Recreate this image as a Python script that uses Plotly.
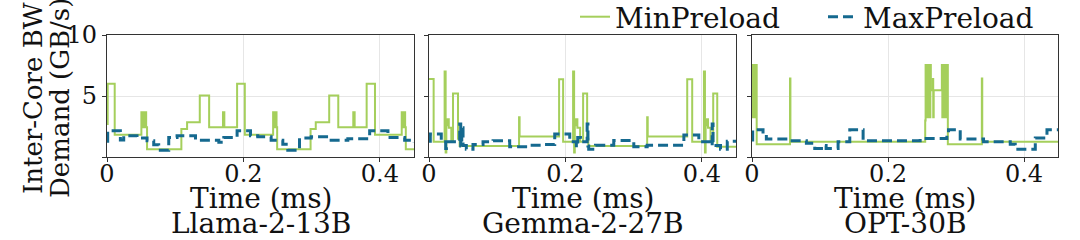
import plotly.graph_objects as go

# ---------------- data ----------------
panel_names = ["Llama-2-13B", "Gemma-2-27B", "OPT-30B"]
x_tick_vals = [0, 0.2, 0.4]
x_tick_text = ["0", "0.2", "0.4"]
y_tick_vals = [0, 5, 10]
y_tick_text = ["", "5", "10"]

llama_min_t = [0, 0.001, 0.0113, 0.0504, 0.0514, 0.0524, 0.0534, 0.0544, 0.0554, 0.0564, 0.0574, 0.0587,
               0.109, 0.1174, 0.136, 0.1497, 0.170, 0.172, 0.1907, 0.202, 0.2435, 0.2445, 0.2455, 0.2465,
               0.2475, 0.2485, 0.2494, 0.2984, 0.306, 0.3257, 0.339, 0.361, 0.363, 0.3806, 0.3928, 0.432,
               0.433, 0.434, 0.435, 0.436, 0.437, 0.438, 0.45]
llama_min_v = [2.7, 6.0, 1.82, 3.67, 2.43, 3.67, 2.43, 3.67, 2.43, 3.67, 2.43, 0.63,
               2.29, 2.85, 5.05, 2.43, 3.67, 2.43, 6.0, 1.82, 3.67, 2.43, 3.67, 2.43,
               3.67, 2.43, 0.63, 2.29, 2.85, 5.05, 2.43, 3.67, 2.43, 6.0, 1.82, 3.67,
               2.43, 3.67, 2.43, 3.67, 2.43, 0.63, 0.63]
llama_max_t = [0, 0.001, 0.0196, 0.0245, 0.044, 0.0587, 0.0685, 0.0758, 0.0905, 0.1027, 0.1297, 0.1639,
               0.1712, 0.1907, 0.2103, 0.221, 0.2406, 0.2577, 0.265, 0.2822, 0.2993, 0.3263, 0.353, 0.385,
               0.4118, 0.4363, 0.45]
llama_max_v = [1.3, 2.15, 1.4, 1.74, 1.55, 1.33, 1.0, 0.55, 1.6, 1.74, 1.38, 1.2,
               1.6, 2.15, 1.74, 1.66, 1.38, 1.05, 0.55, 1.55, 1.66, 1.38, 1.5, 2.15,
               1.6, 1.38, 1.2]

gemma_min_t = [0, 0.0068, 0.0229, 0.0244, 0.0254, 0.0264, 0.0274, 0.029, 0.0327, 0.0352, 0.0425, 0.0449,
               0.132, 0.1328, 0.1907, 0.1966, 0.2112, 0.2127, 0.2137, 0.2147, 0.2157, 0.2175, 0.2215, 0.2259,
               0.2318, 0.2335, 0.3198, 0.3206, 0.3785, 0.3858, 0.403, 0.4045, 0.4055, 0.4065, 0.4075, 0.409,
               0.4127, 0.4166, 0.4225, 0.45]
gemma_min_v = [6.4, 1.24, 7.0, 0.36, 3.0, 2.6, 3.1, 2.4, 1.24, 5.2, 1.5, 0.9,
               3.26, 1.68, 6.38, 1.24, 7.0, 0.36, 3.0, 2.6, 3.1, 2.4, 1.24, 5.2,
               1.5, 0.9, 3.26, 1.68, 6.38, 1.24, 7.0, 0.36, 3.0, 2.6, 3.1, 2.4,
               1.24, 5.2, 0.85, 0.85]
gemma_max_t = [0, 0.0019, 0.018, 0.0245, 0.0255, 0.045, 0.0465, 0.048, 0.0499, 0.0547, 0.0645, 0.0792,
               0.0939, 0.1183, 0.1476, 0.1672, 0.1843, 0.2063, 0.216, 0.218, 0.222, 0.2318, 0.233, 0.2341,
               0.244, 0.2708, 0.3002, 0.3198, 0.3736, 0.3955, 0.4127, 0.4151, 0.4163, 0.4273, 0.4372, 0.45]
gemma_max_v = [1.3, 1.88, 1.24, 0.7, 1.24, 2.7, 0.9, 2.4, 0.94, 0.64, 1.02, 1.24,
               1.33, 0.85, 0.97, 1.02, 1.88, 1.24, 0.8, 1.6, 1.24, 2.7, 0.9, 0.64,
               0.97, 1.35, 0.85, 0.97, 1.8, 1.24, 0.94, 2.7, 0.94, 0.64, 1.3, 1.3]

opt_min_t = [0, 0.0008, 0.0016, 0.0024, 0.0032, 0.004, 0.0048, 0.0056, 0.0064, 0.0069, 0.0559, 0.0565,
             0.2547, 0.2553, 0.256, 0.2567, 0.2574, 0.2581, 0.2588, 0.2595, 0.2602, 0.2609, 0.2616, 0.2623,
             0.263, 0.266, 0.2665, 0.2672, 0.2792, 0.2799, 0.2806, 0.2813, 0.282, 0.2827, 0.2834, 0.2841,
             0.2848, 0.2855, 0.2862, 0.2869, 0.2876, 0.288, 0.338, 0.3386, 0.45]
opt_min_v = [7.54, 3.26, 7.54, 3.26, 7.54, 3.26, 7.54, 3.26, 7.54, 1.05, 6.44, 1.24,
             3.0, 7.54, 3.26, 7.54, 3.26, 7.54, 3.26, 7.54, 3.26, 7.54, 3.26, 7.54,
             5.47, 6.4, 3.26, 5.47, 7.54, 3.26, 7.54, 3.26, 7.54, 3.26, 7.54, 3.26,
             7.54, 3.26, 7.54, 3.26, 7.54, 1.05, 6.44, 1.24, 1.24]
opt_max_t = [0, 0.001, 0.0162, 0.0211, 0.0555, 0.08, 0.0923, 0.107, 0.109, 0.1266, 0.1438, 0.1634,
             0.2473, 0.2866, 0.289, 0.3062, 0.3405, 0.3798, 0.3871, 0.4166, 0.4338, 0.45]
opt_max_v = [1.4, 2.24, 1.8, 1.47, 1.33, 1.13, 0.7, 0.95, 0.7, 1.24, 2.24, 1.33,
             1.52, 1.8, 2.24, 1.47, 1.24, 1.05, 0.64, 1.55, 2.24, 2.24]

series = [
    (llama_min_t, llama_min_v, llama_max_t, llama_max_v),
    (gemma_min_t, gemma_min_v, gemma_max_t, gemma_max_v),
    (opt_min_t, opt_min_v, opt_max_t, opt_max_v),
]

# ---------------- styling ----------------
GREEN = "#a5cf5c"
BLUE = "#15698f"
FONT = "DejaVu Serif"
FS_TICK = 24
FS = 28
FS_Y = 26
W, H = 1080, 240
ML, MR, MT, MB = 107, 22, 35, 83
PW = W - ML - MR
PH = H - MT - MB
panel_px = [(107, 414), (429, 736), (752, 1058)]
domains = [[(a - ML) / PW, (b - ML) / PW] for a, b in panel_px]

fig = go.Figure()
for i, (mt, mv, xt, xv) in enumerate(series):
    xa = "x" if i == 0 else f"x{i+1}"
    ya = "y" if i == 0 else f"y{i+1}"
    fig.add_trace(go.Scatter(x=mt, y=mv, mode="lines", line=dict(color=GREEN, width=2, shape="hv"),
                             name="MinPreload", showlegend=(i == 0), legend="legend",
                             xaxis=xa, yaxis=ya))
    fig.add_trace(go.Scatter(x=xt, y=xv, mode="lines",
                             line=dict(color=BLUE, width=3, shape="hv", dash="10px,5px"),
                             name="MaxPreload", showlegend=(i == 0), legend="legend2",
                             xaxis=xa, yaxis=ya))

axis_common = dict(showline=True, linecolor="#333333", linewidth=1.2, mirror=True,
                   ticks="outside", ticklen=4, tickcolor="#333333", tickwidth=1.2,
                   showgrid=True, gridcolor="#e6e6e6", gridwidth=1, zeroline=False,
                   tickfont=dict(family=FONT, size=FS_TICK, color="#111111"))
layout_axes = {}
for i in range(3):
    sx = "xaxis" if i == 0 else f"xaxis{i+1}"
    sy = "yaxis" if i == 0 else f"yaxis{i+1}"
    yname = "y" if i == 0 else f"y{i+1}"
    xname = "x" if i == 0 else f"x{i+1}"
    layout_axes[sx] = dict(axis_common, domain=domains[i], range=[0, 0.45], anchor=yname,
                           tickvals=x_tick_vals, ticktext=x_tick_text, ticklabelstandoff=-9)
    layout_axes[sy] = dict(axis_common, domain=[0, 1], range=[0, 10], anchor=xname,
                           tickvals=y_tick_vals, ticktext=y_tick_text, showticklabels=(i == 0))

annotations = []
for i, name in enumerate(panel_names):
    cx = (sum(domains[i])) / 2
    annotations.append(dict(text="Time (ms)", x=cx, y=(157 - 198) / PH, xref="paper", yref="paper",
                            showarrow=False, xanchor="center", yanchor="middle",
                            font=dict(family=FONT, size=FS, color="#111111")))
    annotations.append(dict(text=name, x=cx, y=(157 - 223) / PH, xref="paper", yref="paper",
                            showarrow=False, xanchor="center", yanchor="middle",
                            font=dict(family=FONT, size=FS, color="#111111")))
for txt, px in [("Inter-Core BW", 33), ("Demand (GB/s)", 60)]:
    annotations.append(dict(text=txt, x=(px - ML) / PW, y=(157 - 98) / PH, xref="paper", yref="paper",
                            showarrow=False, xanchor="center", yanchor="middle", textangle=-90,
                            font=dict(family=FONT, size=FS_Y, color="#111111")))

legend_common = dict(orientation="h", xanchor="left", yanchor="middle", y=(157 - 17) / PH,
                     font=dict(family=FONT, size=FS, color="#111111"), bgcolor="rgba(0,0,0,0)",
                     itemwidth=30)

fig.update_layout(
    width=W, height=H, margin=dict(l=ML, r=MR, t=MT, b=MB, autoexpand=False),
    paper_bgcolor="white", plot_bgcolor="white",
    font=dict(family=FONT, size=FS, color="#111111"),
    legend=dict(legend_common, x=(575 - ML) / PW),
    legend2=dict(legend_common, x=(823 - ML) / PW),
    annotations=annotations,
    **layout_axes,
)

fig.write_html("out.html", config={"displayModeBar": False},
               post_script="document.body.style.margin='0px';")
